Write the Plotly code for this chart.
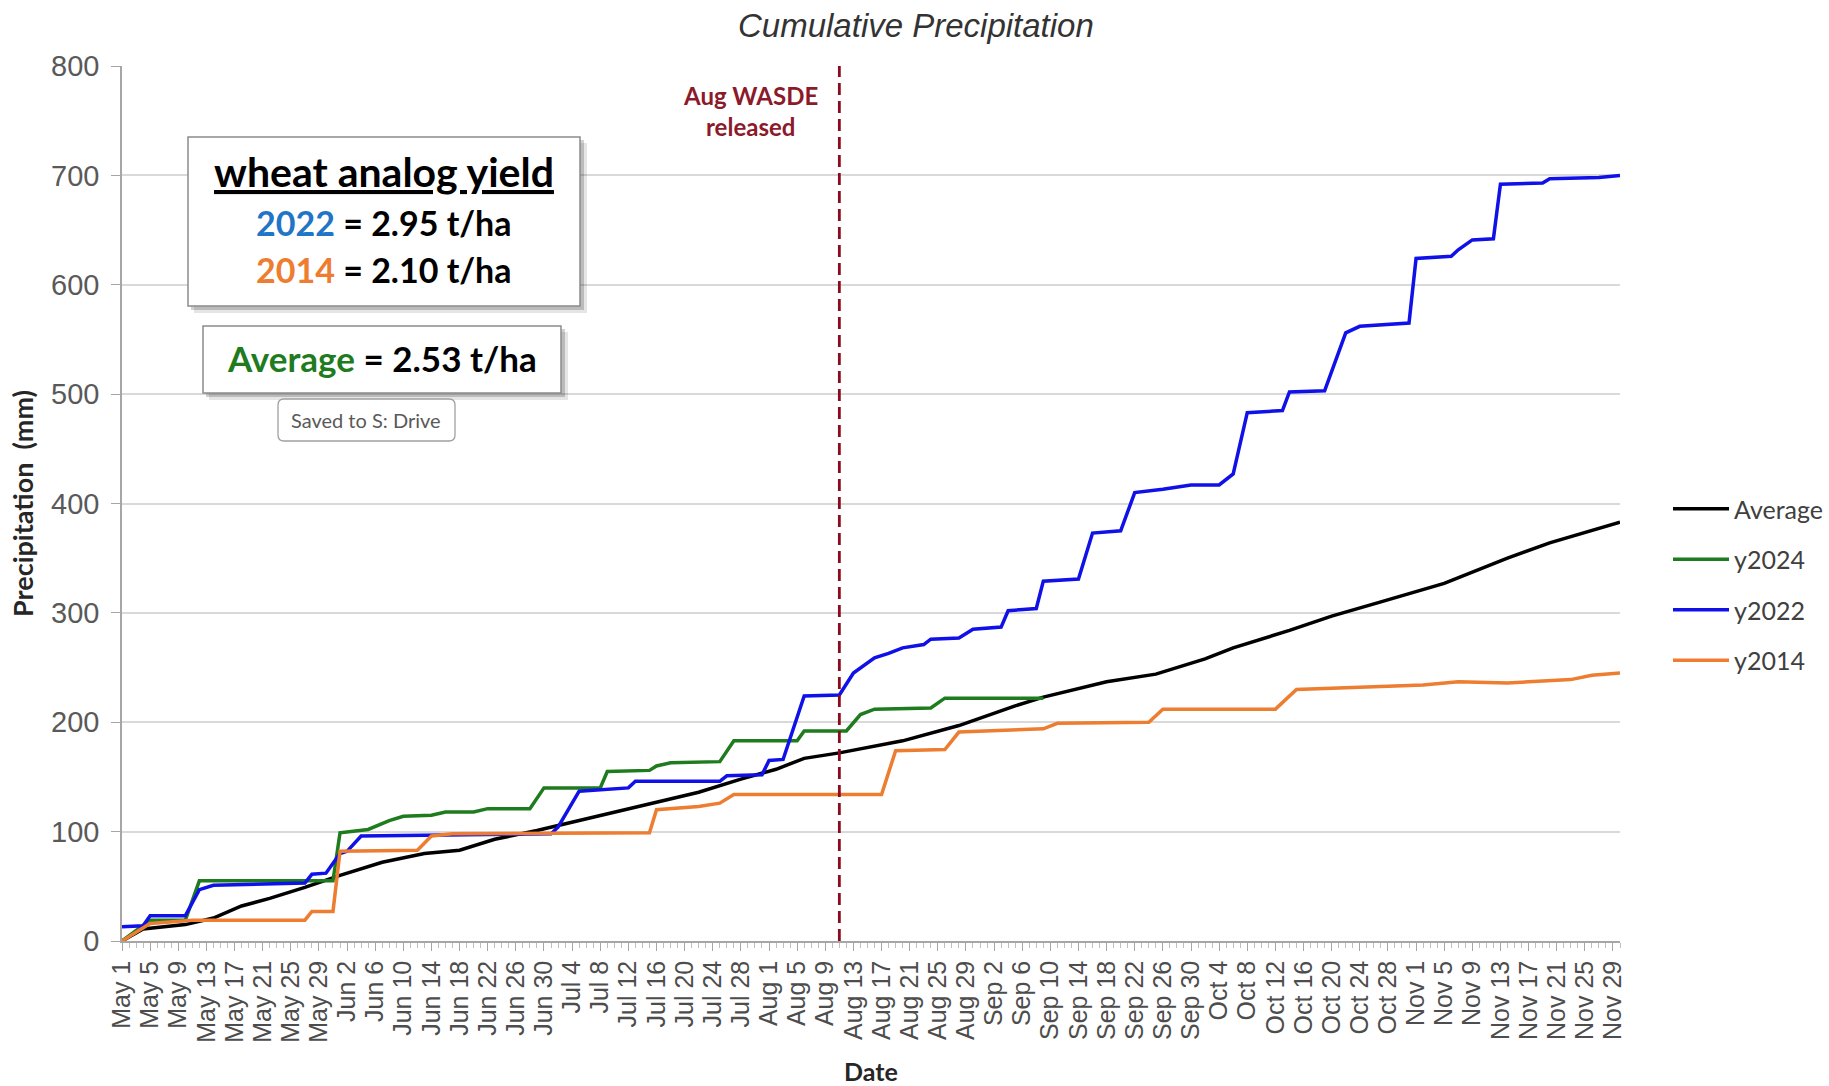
import pandas as pd
import plotly.graph_objects as go

YEAR = "2024"

# ---------------- data ----------------
avg_dates = ["05-01", "05-04", "05-10", "05-14", "05-18", "05-22", "05-27", "06-01", "06-07",
             "06-13", "06-18", "06-23", "06-29", "07-07", "07-15", "07-22", "07-28", "08-02",
             "08-06", "08-11", "08-20", "08-28", "09-05", "09-09", "09-18", "09-25", "10-02",
             "10-06", "10-14", "10-20", "10-27", "11-05", "11-14", "11-20", "11-30"]
avg_vals = [0, 11, 15, 21, 32, 39, 49, 60, 72,
            80, 83, 93, 101, 113, 125, 136, 148, 157,
            167, 172, 183, 197, 215, 223, 237, 244, 258,
            268, 284, 297, 310, 327, 350, 364, 383]

y2024_dates = ["05-01", "05-05", "05-10", "05-12", "05-31", "06-01", "06-05", "06-08", "06-10",
               "06-14", "06-16", "06-20", "06-22", "06-28", "06-30", "07-08", "07-09", "07-15",
               "07-16", "07-18", "07-25", "07-27", "08-05", "08-06", "08-12", "08-14", "08-16",
               "08-24", "08-26", "09-09"]
y2024_vals = [0, 19, 19, 55, 55, 99, 102, 110, 114,
              115, 118, 118, 121, 121, 140, 140, 155, 156,
              160, 163, 164, 183, 183, 192, 192, 207, 212,
              213, 222, 222]

y2022_dates = ["05-01", "05-04", "05-05", "05-10", "05-12", "05-14", "05-27", "05-28", "05-30",
               "06-01", "06-02", "06-04", "07-01", "07-02", "07-05", "07-12", "07-13", "07-25",
               "07-26", "07-31", "08-01", "08-03", "08-06", "08-11", "08-13", "08-16", "08-18",
               "08-20", "08-23", "08-24", "08-28", "08-30", "09-03", "09-04", "09-08", "09-09",
               "09-14", "09-16", "09-20", "09-22", "09-26", "09-30", "10-04", "10-06", "10-08",
               "10-13", "10-14", "10-19", "10-22", "10-24", "10-31", "11-01", "11-06", "11-07",
               "11-09", "11-12", "11-13", "11-19", "11-20", "11-27", "11-30"]
y2022_vals = [13, 14, 23, 23, 47, 51, 53, 61, 62,
              80, 82, 96, 98, 104, 137, 140, 146, 146,
              151, 152, 165, 166, 224, 225, 245, 259, 263,
              268, 271, 276, 277, 285, 287, 302, 304, 329,
              331, 373, 375, 410, 413, 417, 417, 427, 483,
              485, 502, 503, 556, 562, 565, 624, 626, 632,
              641, 642, 692, 693, 697, 698, 700]

y2014_dates = ["05-01", "05-05", "05-11", "05-27", "05-28", "05-31", "06-01", "06-12", "06-14",
               "06-17", "07-15", "07-16", "07-22", "07-25", "07-27", "08-17", "08-19", "08-26",
               "08-28", "09-09", "09-11", "09-24", "09-26", "10-12", "10-15", "10-23", "11-02",
               "11-07", "11-14", "11-23", "11-26", "11-30"]
y2014_vals = [0, 16, 19, 19, 27, 27, 82, 83, 96,
              98, 99, 120, 123, 126, 134, 134, 174, 175,
              191, 194, 199, 200, 212, 212, 230, 232, 234,
              237, 236, 239, 243, 245]

tick_labels = ["May 1", "May 5", "May 9", "May 13", "May 17", "May 21", "May 25", "May 29",
               "Jun 2", "Jun 6", "Jun 10", "Jun 14", "Jun 18", "Jun 22", "Jun 26", "Jun 30",
               "Jul 4", "Jul 8", "Jul 12", "Jul 16", "Jul 20", "Jul 24", "Jul 28",
               "Aug 1", "Aug 5", "Aug 9", "Aug 13", "Aug 17", "Aug 21", "Aug 25", "Aug 29",
               "Sep 2", "Sep 6", "Sep 10", "Sep 14", "Sep 18", "Sep 22", "Sep 26", "Sep 30",
               "Oct 4", "Oct 8", "Oct 12", "Oct 16", "Oct 20", "Oct 24", "Oct 28",
               "Nov 1", "Nov 5", "Nov 9", "Nov 13", "Nov 17", "Nov 21", "Nov 25", "Nov 29"]

y_ticks = [0, 100, 200, 300, 400, 500, 600, 700, 800]
wasde_date = "08-11"
x_start, x_end = "05-01", "11-30"

# ---------------- helpers ----------------
def d(mmdd):
    return f"{YEAR}-{mmdd}"

def dl(lst):
    return [d(v) for v in lst]

tick_vals = [pd.to_datetime(t + " " + YEAR, format="%b %d %Y").strftime("%Y-%m-%d") for t in tick_labels]

W, H = 1829, 1086
PL, PR, PT, PB = 122, 1620, 66, 941

def px(x):
    return (x - PL) / (PR - PL)

def py(y):
    return (PB - y) / (PB - PT)

AX_FONT = "Liberation Sans, Arial, sans-serif"
CAL = "Lato, Carlito, Calibri, sans-serif"

fig = go.Figure()

series = [
    ("Average", avg_dates, avg_vals, "#000000"),
    ("y2024", y2024_dates, y2024_vals, "#1E7B1E"),
    ("y2022", y2022_dates, y2022_vals, "#1010E8"),
    ("y2014", y2014_dates, y2014_vals, "#ED7D31"),
]
for name, dates, vals, col in series:
    fig.add_trace(go.Scatter(
        x=dl(dates), y=vals, mode="lines", name=name, legendgroup=name,
        line=dict(color=col, width=3.5),
    ))

shapes = []
# WASDE dashed line
shapes.append(dict(type="line", xref="x", yref="y", x0=d(wasde_date), x1=d(wasde_date),
                   y0=0, y1=800, line=dict(color="#8B0A1E", width=2.8, dash="12px,6px"),
                   layer="above"))

def rect(x0, y0, x1, y1, **kw):
    return dict(type="rect", xref="paper", yref="paper",
                x0=px(x0), x1=px(x1), y0=py(y1), y1=py(y0), **kw)

# box 1 with shadow
shapes.append(rect(194, 143, 587, 313, fillcolor="rgba(0,0,0,0.10)", line=dict(width=0)))
shapes.append(rect(191, 140, 584, 310, fillcolor="rgba(0,0,0,0.18)", line=dict(width=0)))
shapes.append(rect(188, 137, 580, 306, fillcolor="white", line=dict(color="#8c8c8c", width=1.5)))
# box 2 with shadow
shapes.append(rect(209, 332, 568, 400, fillcolor="rgba(0,0,0,0.10)", line=dict(width=0)))
shapes.append(rect(206, 329, 565, 397, fillcolor="rgba(0,0,0,0.18)", line=dict(width=0)))
shapes.append(rect(203, 326, 561, 393, fillcolor="white", line=dict(color="#8c8c8c", width=1.5)))

# rounded "Saved" box
sx0, sy0, sx1, sy1, r = 278, 399, 455, 441, 6
def P(x, y):
    return f"{px(x):.5f},{py(y):.5f}"
path = (f"M {P(sx0 + r, sy0)} L {P(sx1 - r, sy0)} Q {P(sx1, sy0)} {P(sx1, sy0 + r)} "
        f"L {P(sx1, sy1 - r)} Q {P(sx1, sy1)} {P(sx1 - r, sy1)} "
        f"L {P(sx0 + r, sy1)} Q {P(sx0, sy1)} {P(sx0, sy1 - r)} "
        f"L {P(sx0, sy0 + r)} Q {P(sx0, sy0)} {P(sx0 + r, sy0)} Z")
shapes.append(dict(type="path", xref="paper", yref="paper", path=path,
                   fillcolor="white", line=dict(color="#a0a0a0", width=1.3)))

annotations = []
def ann(x, y, text, size, color="#000000", family=CAL, **kw):
    annotations.append(dict(xref="paper", yref="paper", x=px(x), y=py(y), text=text,
                            showarrow=False, xanchor="center", yanchor="middle",
                            font=dict(family=family, size=size, color=color), **kw))

ann(384, 172, "<b><u>wheat analog yield</u></b>", 41)
ann(384, 223, "<b><span style='color:#1F75C6'>2022</span> = 2.95 t/ha</b>", 34)
ann(384, 269, "<b><span style='color:#ED7D31'>2014</span> = 2.10 t/ha</b>", 34)
ann(382, 358, "<b><span style='color:#1E7B1E'>Average</span> = 2.53 t/ha</b>", 35)
ann(366, 420, "Saved to S: Drive", 20, color="#595959")
ann(750, 96, "<b>Aug WASDE</b>", 24, color="#8B1A2B")
ann(750, 126, "<b>released</b>", 24, color="#8B1A2B")

# chart title
annotations.append(dict(xref="paper", yref="paper", x=px(916), y=py(26), text="<i>Cumulative Precipitation</i>",
                        showarrow=False, xanchor="center", yanchor="middle",
                        font=dict(family=AX_FONT, size=33, color="#333333")))

fig.update_layout(
    width=W, height=H,
    margin=dict(l=PL, r=W - PR, t=PT, b=H - PB, autoexpand=False),
    paper_bgcolor="white", plot_bgcolor="white",
    shapes=shapes, annotations=annotations,
    showlegend=True,
    legend=dict(x=px(1668), y=py(486), xanchor="left", yanchor="top",
                font=dict(family=CAL, size=25, color="#404040"),
                tracegroupgap=15, itemwidth=56, bgcolor="rgba(0,0,0,0)"),
    xaxis=dict(
        type="date", range=[d(x_start), d(x_end)],
        tickmode="array", tickvals=tick_vals, ticktext=tick_labels,
        tickangle=-90, tickfont=dict(family=AX_FONT, size=25, color="#4d4d4d"),
        ticks="outside", ticklen=8, tickcolor="#a6a6a6",
        minor=dict(dtick=86400000, tick0=d(x_start), ticks="outside", ticklen=5,
                   tickcolor="#bfbfbf", showgrid=False),
        showline=True, linecolor="#a6a6a6", linewidth=1.5,
        showgrid=False, zeroline=False,
        title=dict(text="<b>Date</b>", font=dict(family=CAL, size=25, color="#262626"), standoff=26),
        automargin=False,
    ),
    yaxis=dict(
        range=[0, 800], tickmode="array", tickvals=y_ticks,
        tickfont=dict(family=AX_FONT, size=29, color="#595959"),
        ticks="outside", ticklen=9, tickcolor="#a6a6a6", ticklabelstandoff=6,
        showline=True, linecolor="#a6a6a6", linewidth=1.5,
        showgrid=True, gridcolor="#d9d9d9", gridwidth=1.5, zeroline=False,
        title=dict(text="<b>Precipitation  (mm)</b>", font=dict(family=CAL, size=27, color="#262626"), standoff=10),
        automargin=False,
    ),
)

fig.write_html("out.html", config={"displayModeBar": False},
               post_script="document.body.style.margin='0px';")
